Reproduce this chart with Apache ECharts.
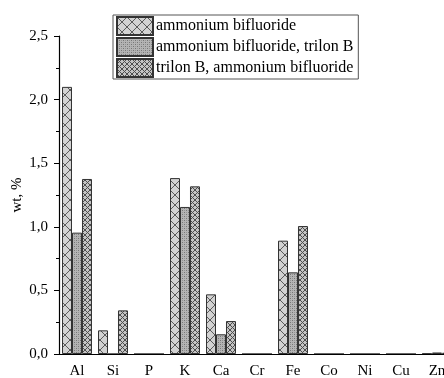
<!DOCTYPE html>
<html>
<head>
<meta charset="utf-8">
<style>
  html, body { margin: 0; padding: 0; background: #fff; overflow: hidden; }
  #chart { width: 444px; height: 378px; }
</style>
<script src="https://cdn.jsdelivr.net/npm/echarts@6/dist/echarts.min.js"></script>
</head>
<body>
<div id="chart"></div>
<script>
const elements = ['Al', 'Si', 'P', 'K', 'Ca', 'Cr', 'Fe', 'Co', 'Ni', 'Cu', 'Zn'];
const seriesNames = [
  'ammonium bifluoride',
  'ammonium bifluoride, trilon B',
  'trilon B, ammonium bifluoride',
];
const bifluoride = [2.1, 0.186, 0, 1.383, 0.469, 0, 0.891, 0, 0, 0, 0.004];
const bifluorideTrilon = [0.954, 0, 0, 1.156, 0.155, 0, 0.642, 0, 0, 0, 0.012];
const trilonBifluoride = [1.376, 0.343, 0, 1.318, 0.259, 0, 1.006, 0, 0, 0, 0.01];
const yTicks = [0, 0.5, 1, 1.5, 2, 2.5];

const FONT = '"Liberation Serif", "Times New Roman", serif';

// small canvases used as repeating fills for the bars
function makeTile(size, bg, draw) {
  const c = document.createElement('canvas');
  c.width = size;
  c.height = size;
  const ctx = c.getContext('2d');
  ctx.fillStyle = bg;
  ctx.fillRect(0, 0, size, size);
  draw(ctx, size);
  return { image: c, repeat: 'repeat' };
}

function crossLines(color, width) {
  return (ctx, s) => {
    ctx.strokeStyle = color;
    ctx.lineWidth = width;
    ctx.beginPath();
    ctx.moveTo(0, 0);
    ctx.lineTo(s, s);
    ctx.moveTo(s, 0);
    ctx.lineTo(0, s);
    ctx.stroke();
  };
}

const bigCross = makeTile(10, '#d2d2d2', crossLines('#5a5a5a', 1));
const dots = makeTile(4, '#b4b4b4', (ctx) => {
  ctx.fillStyle = '#767676';
  ctx.fillRect(0, 0, 1, 1);
  ctx.fillRect(2, 2, 1, 1);
  ctx.fillStyle = '#959595';
  ctx.fillRect(2, 0, 1, 1);
  ctx.fillRect(0, 2, 1, 1);
});
const smallCross = makeTile(5, '#c4c4c4', crossLines('#4e4e4e', 1));

const fills = [bigCross, dots, smallCross];
const values = [bifluoride, bifluorideTrilon, trilonBifluoride];

const chart = echarts.init(document.getElementById('chart'));

chart.setOption({
  backgroundColor: '#fff',
  animation: false,
  // the last category runs past the right edge, as in the original figure
  grid: { left: 59, top: 36, width: 396, height: 318, outerBoundsMode: 'none', containLabel: false },
  legend: {
    left: 113,
    top: 15,
    orient: 'vertical',
    icon: 'rect',
    itemWidth: 36,
    itemHeight: 18,
    itemGap: 1,
    padding: [1, 5, 1, 3],
    borderColor: '#555',
    borderWidth: 1,
    borderRadius: 0,
    textStyle: {
      fontFamily: FONT,
      fontSize: 16,
      lineHeight: 18,
      color: '#000',
      padding: [0, 0, 0, -2],
    },
    data: seriesNames,
  },
  xAxis: [
    {
      type: 'category',
      data: elements,
      z: 5,
      axisLine: { lineStyle: { color: '#000', width: 1.2 } },
      axisTick: { alignWithLabel: true, length: 5, lineStyle: { color: '#000' } },
      axisLabel: { fontFamily: FONT, fontSize: 15, color: '#000', margin: 10 },
    },
    {
      type: 'category',
      data: elements,
      position: 'bottom',
      axisLine: { show: false },
      axisTick: { length: 3, lineStyle: { color: '#000' } },
      axisLabel: { show: false },
    },
  ],
  yAxis: {
    type: 'value',
    min: 0,
    max: 2.5,
    interval: 0.5,
    name: 'wt, %',
    nameLocation: 'middle',
    nameGap: 34,
    nameMoveOverlap: false,
    nameTextStyle: { fontFamily: FONT, fontSize: 15, color: '#000' },
    axisLine: { show: true, lineStyle: { color: '#000', width: 1.2 } },
    axisTick: { show: true, length: 5, lineStyle: { color: '#000' } },
    minorTick: { show: true, splitNumber: 2, length: 3, lineStyle: { color: '#000' } },
    splitLine: { show: false },
    axisLabel: {
      fontFamily: FONT,
      fontSize: 15,
      color: '#000',
      margin: 11,
      formatter: (v) => (yTicks.includes(v) ? v.toFixed(1).replace('.', ',') : ''),
    },
  },
  series: seriesNames.map((name, i) => ({
    name,
    type: 'bar',
    data: values[i],
    barGap: '0%',
    barCategoryGap: '16.7%',
    itemStyle: { color: fills[i], borderColor: '#333', borderWidth: 1 },
  })),
});
</script>
</body>
</html>
